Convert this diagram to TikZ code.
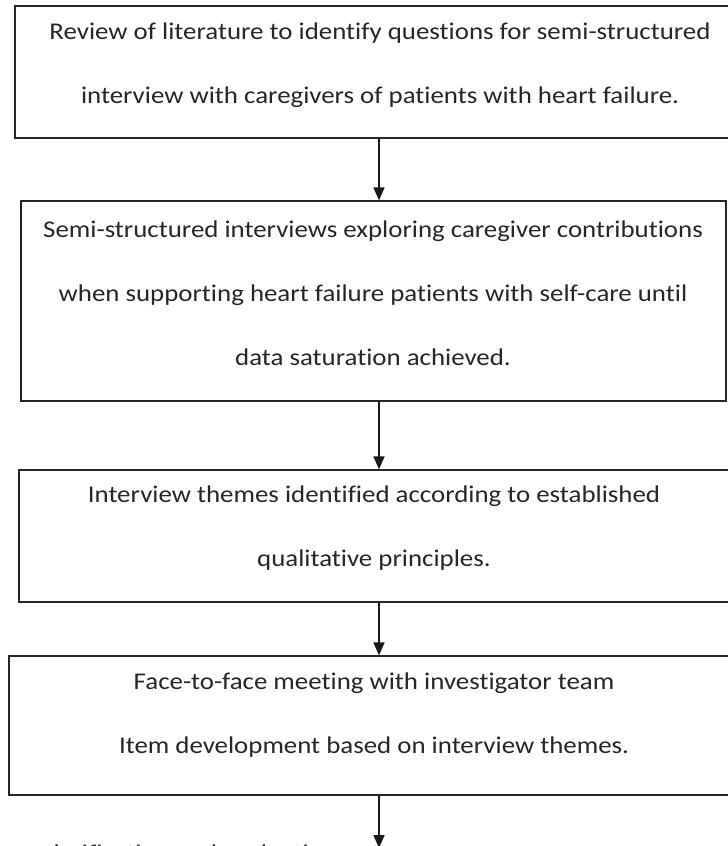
\documentclass[tikz,border=0pt]{standalone}
\usepackage{fontspec}
\setmainfont{Carlito}[Ligatures=CommonOff, FakeStretch=1.12]
\usetikzlibrary{arrows.meta,positioning,calc}

\begin{document}
\begin{tikzpicture}[x=1pt, y=-1pt,
    stepbox/.style={draw=black!85, line width=1.2pt, inner sep=0pt},
    steptext/.style={align=center, text=black!85, inner sep=0pt, font=\fontsize{24}{64}\selectfont},
    flow/.style={-{Triangle[width=11pt,length=13pt]}, line width=1.6pt, black!90}]
    \useasboundingbox (0,0) rectangle (728,846);
    \clip (0,0) rectangle (728,846);

    % Boxes
    \node[stepbox, minimum width=730pt, minimum height=132pt] (review) at (380,72) {};
    \node[stepbox, minimum width=705pt, minimum height=200pt] (interviews) at (373.5,301) {};
    \node[stepbox, minimum width=726pt, minimum height=132pt] (themes) at (382,536) {};
    \node[stepbox, minimum width=736pt, minimum height=139pt] (meeting) at (377,725.5) {};

    % Texts
    \node[steptext] (reviewtext) at (380,65) {Review of literature to identify questions for semi-structured\\interview with caregivers of patients with heart failure.};
    \node[steptext] (interviewstext) at (373,293) {Semi-structured interviews exploring caregiver contributions\\when supporting heart failure patients with self-care until\\data saturation achieved.};
    \node[steptext] (themestext) at (374,528.5) {Interview themes identified according to established\\qualitative principles.};
    \node[steptext] (meetingtext) at (374,715.5) {Face-to-face meeting with investigator team\\Item development based on interview themes.};
    \node[steptext, anchor=base west] (clarify) at (42,861) {clarification and evaluation};

    % Arrows
    \coordinate (spine) at (379,0);
    \coordinate (bottom) at (379,848);
    \draw[flow] (review.south -| spine) -- (interviews.north -| spine);
    \draw[flow] (interviews.south -| spine) -- (themes.north -| spine);
    \draw[flow] (themes.south -| spine) -- (meeting.north -| spine);
    \draw[flow] (meeting.south -| spine) -- (bottom);
\end{tikzpicture}
\end{document}
